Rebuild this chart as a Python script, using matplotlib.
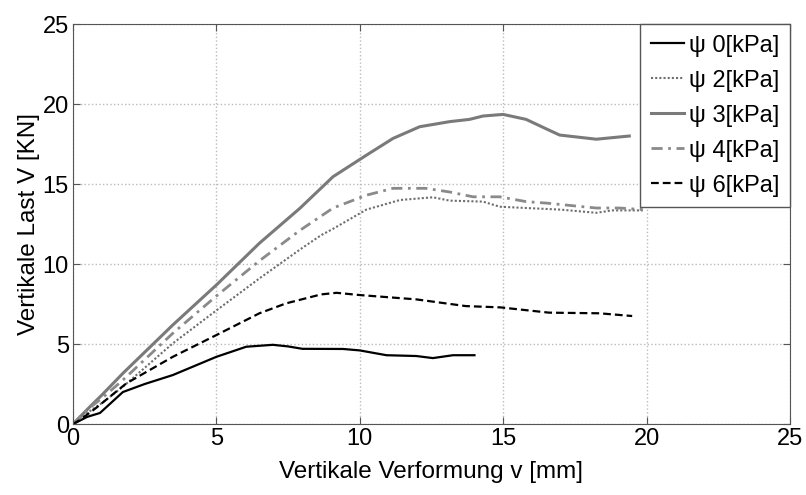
#!/usr/bin/env python3

import numpy as np
import matplotlib
matplotlib.use('Agg')
from matplotlib import pyplot as plt

# Last-Verformungs-Kurven je Saugspannung psi
v_0 = [0, 0.5, 0.94, 1.74, 2.5, 3.48, 4.2, 5.0, 6.04, 6.97, 7.5, 8.0, 9.42, 10.0, 10.93, 11.97, 12.55, 13.25, 14.0]
V_0 = [0, 0.45, 0.69, 2.0, 2.5, 3.06, 3.6, 4.2, 4.83, 4.95, 4.85, 4.7, 4.69, 4.6, 4.3, 4.25, 4.12, 4.3, 4.3]

v_2 = [0, 0.5, 1.0, 1.74, 3.48, 5.0, 6.5, 7.91, 8.65, 9.07, 10.23, 11.4, 12.55, 13.14, 14.3, 14.88, 16.04, 17.0, 18.25, 18.8, 19.87]
V_2 = [0, 0.7, 1.3, 2.33, 5.04, 7.1, 9.1, 10.9, 11.8, 12.2, 13.4, 14.0, 14.17, 13.96, 13.9, 13.58, 13.48, 13.4, 13.2, 13.35, 13.35]

v_3 = [0, 0.59, 1.0, 1.74, 3.48, 5.0, 6.5, 7.91, 9.07, 10.23, 11.16, 12.09, 13.14, 13.83, 14.3, 15.0, 15.8, 16.56, 16.97, 18.25, 19.4]
V_3 = [0, 1.08, 1.8, 3.17, 6.19, 8.69, 11.3, 13.48, 15.46, 16.8, 17.85, 18.58, 18.9, 19.04, 19.25, 19.35, 19.04, 18.4, 18.06, 17.8, 18.0]

v_4 = [0, 0.5, 1.0, 1.74, 3.48, 5.0, 6.5, 7.91, 9.07, 10.23, 11.16, 12.3, 13.14, 13.95, 14.88, 15.8, 16.56, 17.67, 18.25, 19.06, 19.87]
V_4 = [0, 0.9, 1.6, 2.75, 5.67, 8.0, 10.2, 12.1, 13.5, 14.3, 14.73, 14.73, 14.5, 14.2, 14.2, 13.9, 13.8, 13.6, 13.5, 13.5, 13.4]

v_6 = [0, 0.24, 0.8, 1.86, 3.48, 5.0, 6.5, 7.43, 8.65, 9.19, 10.0, 11.97, 13.7, 14.9, 16.6, 18.36, 19.5]
V_6 = [0, 0.25, 1.0, 2.54, 4.2, 5.56, 6.92, 7.54, 8.1, 8.2, 8.06, 7.79, 7.37, 7.29, 6.96, 6.92, 6.75]

labels = ['\u03c8 0[kPa]', '\u03c8 2[kPa]', '\u03c8 3[kPa]', '\u03c8 4[kPa]', '\u03c8 6[kPa]']

plt.rcParams['font.family'] = ['Liberation Sans', 'DejaVu Sans']

fig = plt.figure(figsize=(8.06, 4.95), dpi=100)
ax = fig.add_axes([0.0906, 0.1434, 0.8894, 0.8081])

ax.plot(v_0, V_0, color='black', linestyle='-', lw=1.6, label=labels[0])
ax.plot(v_2, V_2, color='#6e6e6e', linestyle=(0, (1, 1)), lw=1.5, label=labels[1])
ax.plot(v_3, V_3, color='#7a7a7a', linestyle='-', lw=2.2, label=labels[2])
ax.plot(v_4, V_4, color='#8a8a8a', linestyle=(0, (4, 2, 1, 2)), lw=2.0, label=labels[3])
ax.plot(v_6, V_6, color='black', linestyle=(0, (3.5, 1.8)), lw=1.6, label=labels[4])

ax.set_xlim(0, 25)
ax.set_ylim(0, 25)
ax.set_xticks([0, 5, 10, 15, 20, 25])
ax.set_yticks([0, 5, 10, 15, 20, 25])
ax.tick_params(direction='in', top=True, right=True, labelsize=17, length=5, color='#555555', pad=3)
ax.grid(True, color='#bbbbbb', linestyle=':', linewidth=1.0)
for s in ax.spines.values():
    s.set_color('#555555')

ax.set_xlabel('Vertikale Verformung v [mm]', fontsize=17.5, labelpad=8)
ax.set_ylabel('Vertikale Last V [KN]', fontsize=17.5, labelpad=2)

leg = ax.legend(loc='upper right', borderaxespad=0, fontsize=17, handlelength=1.4,
                handletextpad=0.2, labelspacing=0.55, fancybox=False, framealpha=1,
                borderpad=0.45)
leg.get_frame().set_edgecolor('#555555')

fig.savefig('out.png', dpi=100)
